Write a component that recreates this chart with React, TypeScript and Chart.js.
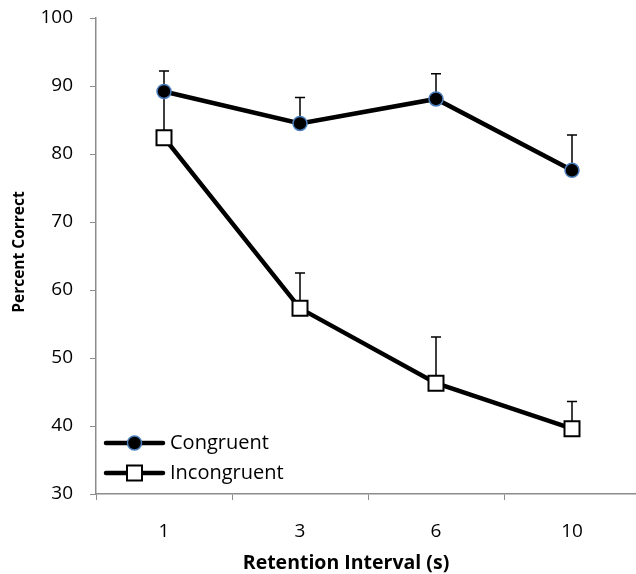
import React, { useEffect, useRef } from "react";
import { Chart, registerables } from "chart.js";

Chart.register(...registerables);

const intervals = ["1", "3", "6", "10"];
const congruent = [89.2, 84.5, 88.1, 77.6];
const congruentUpper = [92.2, 88.3, 91.8, 82.8];
const incongruent = [82.4, 57.3, 46.3, 39.6];
const incongruentUpper = [89.5, 62.5, 53.1, 43.6];
const yTicks = [30, 40, 50, 60, 70, 80, 90, 100];

const xTitle = "Retention Interval (s)";
const yTitle = "Percent Correct";

const FONT = "'Open Sans', Lato, sans-serif";
const AXIS_GRAY = "#8c8c8c";
const MARKER_EDGE = "#4a7ebb";

// Upper error whiskers with a short cap, drawn beneath the markers
const errorBars = {
  id: "errorBars",
  beforeDatasetsDraw(chart: any) {
    const { ctx, scales } = chart;
    const y = scales.y;
    const sets = [
      { idx: 0, vals: congruent, up: congruentUpper },
      { idx: 1, vals: incongruent, up: incongruentUpper },
    ];
    ctx.save();
    ctx.strokeStyle = "#000";
    ctx.lineWidth = 1.5;
    sets.forEach((s) => {
      const meta = chart.getDatasetMeta(s.idx);
      meta.data.forEach((pt: any, i: number) => {
        const x = pt.x;
        const y0 = y.getPixelForValue(s.vals[i]);
        const y1 = y.getPixelForValue(s.up[i]);
        ctx.beginPath();
        ctx.moveTo(x, y0);
        ctx.lineTo(x, y1);
        ctx.moveTo(x - 5, y1);
        ctx.lineTo(x + 5, y1);
        ctx.stroke();
      });
    });
    ctx.restore();
  },
};

// Axis titles drawn by hand so they can sit where the layout wants them
const axisTitles = {
  id: "axisTitles",
  afterDraw(chart: any) {
    const { ctx } = chart;
    ctx.save();
    ctx.fillStyle = "#000";
    ctx.textAlign = "center";
    ctx.textBaseline = "middle";
    ctx.font = `bold 19.5px ${FONT}`;
    ctx.fillText(xTitle, 346, 563);
    ctx.translate(20, 252);
    ctx.rotate(-Math.PI / 2);
    ctx.font = `bold 15.5px ${FONT}`;
    ctx.fillText(yTitle, 0, 0);
    ctx.restore();
  },
};

// Legend placed inside the plot, lower left
const insideLegend = {
  id: "insideLegend",
  afterDraw(chart: any) {
    const { ctx } = chart;
    const x0 = 106;
    const x1 = 163;
    const mx = (x0 + x1) / 2;
    const rows = [
      { label: "Congruent", y: 443, kind: "circle" },
      { label: "Incongruent", y: 473, kind: "square" },
    ];
    ctx.save();
    rows.forEach((r) => {
      ctx.strokeStyle = "#000";
      ctx.lineWidth = 4.5;
      ctx.lineCap = "round";
      ctx.beginPath();
      ctx.moveTo(x0, r.y);
      ctx.lineTo(x1, r.y);
      ctx.stroke();
      if (r.kind === "circle") {
        ctx.beginPath();
        ctx.arc(mx, r.y, 7, 0, Math.PI * 2);
        ctx.fillStyle = "#000";
        ctx.fill();
        ctx.lineWidth = 1.5;
        ctx.strokeStyle = MARKER_EDGE;
        ctx.stroke();
      } else {
        ctx.fillStyle = "#fff";
        ctx.fillRect(mx - 7.5, r.y - 7.5, 15, 15);
        ctx.lineWidth = 2;
        ctx.strokeStyle = "#000";
        ctx.strokeRect(mx - 7.5, r.y - 7.5, 15, 15);
      }
      ctx.fillStyle = "#000";
      ctx.font = `20px ${FONT}`;
      ctx.textBaseline = "middle";
      ctx.textAlign = "left";
      ctx.fillText(r.label, 170, r.y);
    });
    ctx.restore();
  },
};

export default function App() {
  const ref = useRef<HTMLCanvasElement>(null);

  useEffect(() => {
    if (!ref.current) return;
    const chart = new Chart(ref.current, {
      type: "line",
      data: {
        labels: intervals,
        datasets: [
          {
            label: "Congruent",
            data: congruent,
            borderColor: "#000",
            borderWidth: 4.5,
            pointStyle: "circle",
            pointRadius: 7,
            pointBackgroundColor: "#000",
            pointBorderColor: MARKER_EDGE,
            pointBorderWidth: 1.5,
            tension: 0,
          },
          {
            label: "Incongruent",
            data: incongruent,
            borderColor: "#000",
            borderWidth: 4.5,
            pointStyle: "rect",
            pointRadius: 10.6,
            pointBackgroundColor: "#fff",
            pointBorderColor: "#000",
            pointBorderWidth: 2,
            tension: 0,
          },
        ],
      },
      options: {
        animation: false,
        responsive: false,
        devicePixelRatio: 1,
        layout: {
          autoPadding: false,
          padding: { top: 18, left: 0, right: 0, bottom: 0 },
        },
        plugins: {
          legend: { display: false },
          tooltip: { enabled: false },
        },
        scales: {
          x: {
            type: "category",
            offset: true,
            grid: {
              display: true,
              offset: true,
              drawOnChartArea: false,
              tickLength: 6,
              tickColor: AXIS_GRAY,
            },
            border: { color: AXIS_GRAY, width: 1.5 },
            ticks: {
              color: "#000",
              font: { family: FONT, size: 19 },
              padding: 20,
              maxRotation: 0,
            },
            title: { display: false },
            afterFit(scale: any) {
              scale.height = 80;
              scale.paddingLeft = 0;
              scale.paddingRight = 0;
            },
          },
          y: {
            min: 30,
            max: 100,
            afterBuildTicks(scale: any) {
              scale.ticks = yTicks.map((v) => ({ value: v }));
            },
            grid: {
              display: true,
              drawOnChartArea: false,
              tickLength: 6,
              tickColor: AXIS_GRAY,
            },
            border: { color: AXIS_GRAY, width: 1.5 },
            ticks: {
              color: "#000",
              font: { family: FONT, size: 19 },
              padding: 17,
            },
            title: { display: false },
            afterFit(scale: any) {
              scale.width = 96;
              scale.paddingTop = 0;
              scale.paddingBottom = 0;
            },
          },
        },
      },
      plugins: [errorBars, insideLegend, axisTitles],
    });
    return () => chart.destroy();
  }, []);

  return (
    <div
      style={{
        position: "fixed",
        left: 0,
        top: 0,
        width: 636,
        height: 574,
        overflow: "hidden",
        background: "#fff",
      }}
    >
      <canvas ref={ref} width={640} height={574} style={{ display: "block" }} />
    </div>
  );
}
